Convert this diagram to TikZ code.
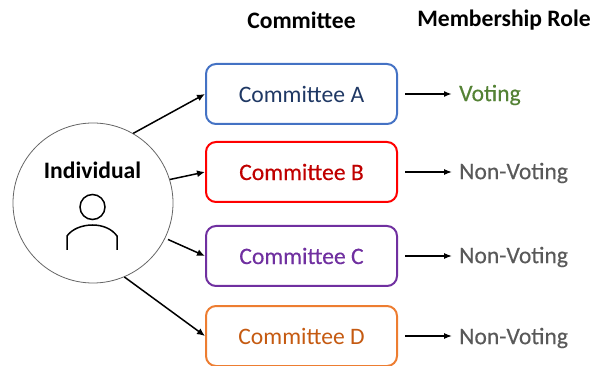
\documentclass[tikz,border=0pt]{standalone}
\usepackage{fontspec}
\setmainfont{Carlito}
\newfontfamily\heavyfont[FakeBold=0.35]{Carlito}
\usetikzlibrary{arrows.meta}
\definecolor{cA}{HTML}{4472C4}
\definecolor{tA}{HTML}{1F3864}
\definecolor{cB}{HTML}{FF0000}
\definecolor{tB}{HTML}{C00000}
\definecolor{cC}{HTML}{7030A0}
\definecolor{cD}{HTML}{ED7D31}
\definecolor{tD}{HTML}{C55A11}
\definecolor{vote}{HTML}{548235}
\definecolor{nonvote}{HTML}{595959}
\tikzset{
  x=1pt,y=-1pt,
  combox/.style={draw,line width=2pt,rounded corners=10pt,minimum width=191pt,minimum height=60pt,inner sep=0pt,font=\fontsize{23.6}{26}\selectfont},
  rolelabel/.style={anchor=west,inner sep=0pt,font=\fontsize{23.6}{26}\selectfont\heavyfont},
  headerlabel/.style={inner sep=0pt,font=\fontsize{23.6}{26}\selectfont\bfseries},
  bigarrow/.style={-{Latex[length=8pt,width=7pt]},line width=1.5pt,black},
  rolearrow/.style={-{Latex[length=8pt,width=6pt]},line width=1.2pt,black,shorten <=7pt,shorten >=7pt},
}
\begin{document}
\begin{tikzpicture}
\useasboundingbox (0,0) rectangle (592,366);
\clip (0,0) rectangle (592,366);
\node[headerlabel] (h1) at (301.5,20) {Committee};
\node[headerlabel] (h2) at (504,20) {Membership Role};
\node[draw=black!60,line width=0.8pt,circle,minimum size=160pt,inner sep=0pt] (ind) at (93,203) {};
\node[inner sep=0pt,font=\fontsize{23.6}{26}\selectfont\bfseries] (indt) at (92.5,170) {Individual};
\node[draw=black,line width=1.5pt,circle,minimum size=25pt,inner sep=0pt] (head) at (92.5,207) {};
\draw[line width=1.5pt] (67,250) -- (67,236) .. controls (72,229) and (82,225) .. (92.5,225) .. controls (103,225) and (112,229) .. (117,236) -- (117,250);
\node[combox,draw=cA,text=tA] (A) at (301.5,94) {Committee A};
\node[combox,draw=cB,text=tB,font=\fontsize{23.6}{26}\selectfont\heavyfont] (B) at (301.5,172) {Committee B};
\node[combox,draw=cC,text=cC,font=\fontsize{23.6}{26}\selectfont\heavyfont] (C) at (301.5,256) {Committee C};
\node[combox,draw=cD,text=tD] (D) at (301.5,336) {Committee D};
\node[rolelabel,text=vote] (rA) at (459,95) {Voting};
\node[rolelabel,text=nonvote] (rB) at (459,173) {Non-Voting};
\node[rolelabel,text=nonvote] (rC) at (459,257) {Non-Voting};
\node[rolelabel,text=nonvote] (rD) at (459,338) {Non-Voting};
\draw[bigarrow] (ind.60) -- (A.west);
\draw[bigarrow] (ind.17) -- (B.west);
\draw[bigarrow,shorten <=3pt] (ind.-26) -- (C.west);
\draw[bigarrow] (ind.-67) -- (D.west);
\draw[rolearrow,line width=1.6pt] (A.east) -- (A.east -| rA.west);
\draw[rolearrow] (B.east) -- (B.east -| rB.west);
\draw[rolearrow] (C.east) -- (C.east -| rC.west);
\draw[rolearrow] (D.east) -- (D.east -| rD.west);
\end{tikzpicture}
\end{document}
